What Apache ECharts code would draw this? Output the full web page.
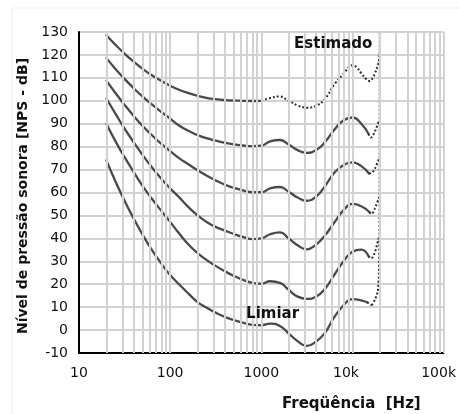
<!DOCTYPE html>
<html>
<head>
<meta charset="utf-8">
<script src="https://cdn.jsdelivr.net/npm/echarts@6/dist/echarts.min.js"></script>
<style>
  html, body { margin: 0; padding: 0; background: #fff; }
  #chart { width: 459px; height: 414px; }
</style>
</head>
<body>
<div id="chart"></div>
<script>
// Third-octave centre frequencies (Hz) shared by the measured part of each contour
const freqBands = [20, 25, 31.5, 40, 50, 63, 80, 100, 125, 160, 200, 250, 315, 400, 500, 630, 800, 1000,
                   1250, 1600, 2000, 2500, 3150, 4000, 5000, 6300, 8000, 10000, 12500];

// Equal-loudness contours, level in dB SPL at each band
const limiar = [74, 65, 56.5, 48.5, 41.5, 35, 29, 24, 20, 15.8, 12.2, 9.8, 7.6, 5.7, 4.4, 3.2, 2.3, 2.1,
                2.8, 1.8, -1.5, -4.8, -6.9, -5, -1.2, 5.5, 10.8, 13.5, 13];
const phon20 = [90, 82.5, 75.5, 68.8, 62.8, 57.3, 52, 47.2, 42.2, 37.2, 33.6, 30.6, 28, 25.6, 23.6, 21.9, 20.6, 20.2,
                21.3, 20.6, 17.5, 14.6, 13.6, 14.6, 18, 24, 30, 34.2, 35.1];
const phon40 = [101, 94.5, 88, 81.8, 76.3, 71, 66, 61.8, 58, 53.5, 50, 47.2, 45, 43.4, 41.9, 40.6, 39.7, 40,
                41.8, 42.6, 40, 37, 35.2, 37.3, 41.3, 46.8, 52.3, 55, 54];
const phon60 = [108.8, 103.5, 98.3, 93.3, 89, 85, 81.2, 78, 75, 72.2, 69.7, 67.4, 65.3, 63.4, 62, 60.9, 60.1, 60.1,
                61.8, 62.4, 60.3, 57.8, 56.4, 58.2, 62.8, 68.5, 72, 73.1, 71.5];
const phon80 = [118.6, 114, 109.6, 105.4, 101.8, 98.4, 95.1, 92.2, 89.2, 86.8, 85, 83.7, 82.6, 81.6, 81, 80.5, 80.2, 80.4,
                82.3, 82.9, 80.9, 78.5, 77.3, 78.5, 82, 87.3, 91.5, 92.7, 90];
const phon100 = [128.6, 124.5, 120.6, 117, 113.9, 111.1, 108.7, 106.6, 104.8, 103.3, 102.2, 101.3, 100.7, 100.3, 100.1, 100, 99.9, 100];

// Last measured point of each contour above 12.5 kHz: [Hz, dB]
const limiarEnd = [[14500, 12.1]];
const phon20End = [[15000, 32.3]];
const phon40End = [[15300, 51.5]];
const phon60End = [[15200, 68.3]];
const phon80End = [[15000, 85.6]];

// Estimated (dotted) continuations: [Hz, dB]
const limiarEst = [[14500, 12.1], [16300, 10.8]];
const phon20Est = [[15000, 32.3], [16000, 31.3], [17500, 33.5], [19300, 40]];
const phon40Est = [[15300, 51.5], [16200, 50.7], [17600, 53], [19600, 58]];
const phon60Est = [[15200, 68.3], [16300, 68.6], [17700, 70.5], [19700, 75]];
const phon80Est = [[15000, 85.6], [15900, 84], [17500, 86.3], [19600, 91.5]];
const phon100Est = [[1000, 100], [1250, 101.2], [1575, 101.9], [2000, 100], [2500, 98], [3150, 97], [4000, 97.8],
                    [5000, 100.8], [6300, 107], [8000, 111.8], [10000, 115.5], [11200, 114.5], [12500, 112],
                    [14000, 109.6], [15500, 108.6], [16700, 110], [17600, 111.8], [18800, 115], [19600, 117.6], [19900, 121]];
// Estimated upper frequency limit of hearing
const limitEst = [[16300, 10.8], [17800, 13.5], [19000, 17], [19500, 25], [19800, 42], [19900, 80], [19950, 130]];

// Axis ticks
const xTickValues = [10, 100, 1000, 10000, 100000];
const xTickLabels = ['10', '100', '1000', '10k', '100k'];
const gridFreqs = [];
for (let d = 1; d <= 4; d++) {
  for (let m = 1; m <= 9; m++) {
    const f = m * Math.pow(10, d);
    if (f > 10) gridFreqs.push(f);
  }
}
gridFreqs.push(100000);

// Annotation anchors: [Hz, dB]
const notes = [
  { text: 'Limiar', at: [1330, 7] },
  { text: 'Estimado', at: [6150, 124.8] }
];

const FONT = 'DejaVu Sans';
const pair = (vals, ext) => vals.map((v, i) => [freqBands[i], v]).concat(ext || []);

const solidStyle = { color: '#4a4a4a', width: 2.3, cap: 'round', join: 'round' };
const dotStyle = { color: '#2e2e2e', width: 2, type: [2, 2] };

function solid(name, data) {
  return { name, type: 'line', data, smooth: 0.5, symbol: 'none', lineStyle: solidStyle, z: 3, silent: true };
}
function dotted(name, data, smooth) {
  return { name, type: 'line', data, smooth: smooth, symbol: 'none', lineStyle: dotStyle, z: 3, silent: true };
}

const noteLabel = {
  show: true, position: 'inside', fontFamily: FONT, fontSize: 15, fontWeight: 'bold', color: '#111'
};

const chart = echarts.init(document.getElementById('chart'), null, { renderer: 'canvas' });
chart.setOption({
  animation: false,
  backgroundColor: '#ffffff',
  grid: { left: 79, right: 11, top: 32, bottom: 61 },
  title: {
    text: 'Freqüência  [Hz]', left: 282, top: 397, padding: 0,
    textStyle: { fontFamily: FONT, fontSize: 15, fontWeight: 'bold', color: '#111' }
  },
  graphic: [{
    type: 'rect', shape: { x: 12, y: 8, width: 470, height: 430 },
    style: { fill: 'none', stroke: '#ececec', lineWidth: 1 }, silent: true, z: -1
  }],
  xAxis: {
    type: 'log', logBase: 10, min: 10, max: 100000,
    axisLine: { show: true, onZero: false, lineStyle: { color: '#000', width: 2 } },
    axisTick: { show: false },
    splitLine: { show: false },
    axisLabel: {
      margin: 13, fontFamily: FONT, fontSize: 14, color: '#111', showMaxLabel: true,
      formatter: function (v) {
        const i = Math.round(Math.log10(v)) - 1;
        const t = xTickLabels[i];
        if (t === '10k') return '{a|' + t + '}';
        if (t === '100k') return '{b|' + t + '}';
        return t;
      },
      rich: {
        a: { fontFamily: FONT, fontSize: 14, color: '#111', padding: [0, 13, 0, 0] },
        b: { fontFamily: FONT, fontSize: 14, color: '#111', padding: [0, 10, 0, 0] }
      }
    }
  },
  yAxis: {
    type: 'value', min: -10, max: 130, interval: 10,
    name: 'Nível de pressão sonora [NPS - dB]',
    nameLocation: 'middle', nameRotate: 90, nameGap: 47,
    nameTextStyle: { fontFamily: FONT, fontSize: 14, fontWeight: 'bold', color: '#111', padding: [0, 7, 0, 0] },
    axisLine: { show: true, onZero: false, lineStyle: { color: '#000', width: 2 } },
    axisTick: { show: false },
    splitLine: { show: true, lineStyle: { color: '#d2d2d2', width: 2 } },
    axisLabel: { margin: 11, fontFamily: FONT, fontSize: 14, color: '#111' }
  },
  series: [
    {
      name: 'grade', type: 'line', data: [], z: 1, silent: true,
      markLine: {
        silent: true, symbol: 'none', animation: false,
        label: { show: false },
        lineStyle: { color: '#d2d2d2', width: 2, type: 'solid' },
        emphasis: { disabled: true },
        data: gridFreqs.map(f => ({ xAxis: f }))
      }
    },
    solid('100 fon', pair(phon100)),
    solid('80 fon', pair(phon80, phon80End)),
    solid('60 fon', pair(phon60, phon60End)),
    solid('40 fon', pair(phon40, phon40End)),
    solid('20 fon', pair(phon20, phon20End)),
    Object.assign(solid('Limiar', pair(limiar, limiarEnd)), {
      markPoint: {
        symbol: 'circle', symbolSize: 1, itemStyle: { color: 'rgba(0,0,0,0)' }, label: noteLabel,
        data: notes.map(n => ({ coord: n.at, value: n.text, label: { formatter: n.text } }))
      }
    }),
    dotted('100 fon est.', phon100Est, 0.4),
    dotted('80 fon est.', phon80Est, 0.35),
    dotted('60 fon est.', phon60Est, 0.35),
    dotted('40 fon est.', phon40Est, 0.35),
    dotted('20 fon est.', phon20Est, 0.35),
    dotted('Limiar est.', limiarEst, 0.3),
    dotted('limite', limitEst, 0.2)
  ]
});
</script>
</body>
</html>
